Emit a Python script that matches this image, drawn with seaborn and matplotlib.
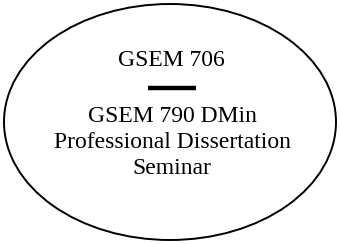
import matplotlib
matplotlib.use('Agg')
import matplotlib.pyplot as plt
from matplotlib.patches import Ellipse
import seaborn as sns

# Contenido del diagrama
titulo = 'GSEM 706'
lineas = ['GSEM 790 DMin', 'Professional Dissertation', 'Seminar']
base_lineas = [122, 148, 174]

sns.set_style('white')
plt.rcParams['font.family'] = ['Liberation Serif', 'DejaVu Serif']

fig = plt.figure(figsize=(3.4, 2.44), dpi=100)
ax = fig.add_axes([0, 0, 1, 1])
ax.set_xlim(0, 340)
ax.set_ylim(244, 0)
ax.axis('off')

# Elipse exterior
ax.add_patch(Ellipse((170, 122), 332, 236, fill=False, edgecolor='black', lw=1.4))

# Textos
ax.text(171, 66, titulo, ha='center', va='baseline', fontsize=17, color='black')
ax.plot([148, 196], [88, 88], color='black', lw=3.2, solid_capstyle='butt')
for texto, y in zip(lineas, base_lineas):
    ax.text(172, y, texto, ha='center', va='baseline', fontsize=17, color='black')

fig.savefig('out.png', dpi=100)
